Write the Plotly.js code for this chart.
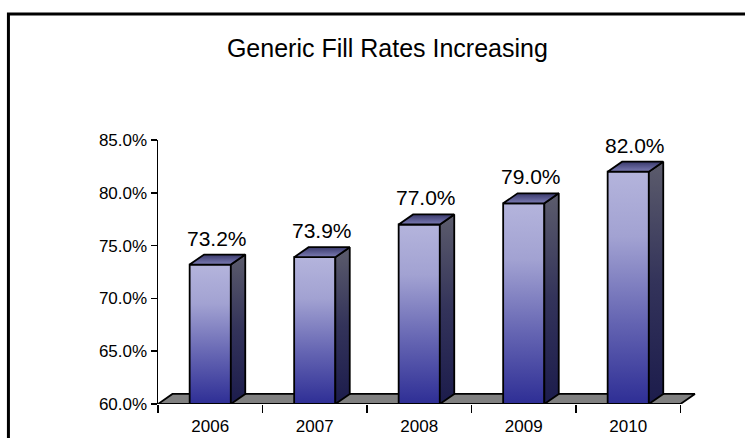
<!DOCTYPE html>
<html>
<head>
<meta charset="utf-8">
<script src="https://cdn.plot.ly/plotly-3.0.1.min.js"></script>
<style>
  html, body { margin: 0; padding: 0; background: #ffffff; }
  #chart { width: 745px; height: 438px; }
</style>
</head>
<body>
<div id="chart"></div>
<script>
// Generic fill rate by year
const years = ['2006', '2007', '2008', '2009', '2010'];
const fillRates = [73.2, 73.9, 77.0, 79.0, 82.0];
const yTickVals = [60, 65, 70, 75, 80, 85];

// 3D column geometry, in axis units
const BASE = 60;          // floor level of the value axis
const HALF_W = 0.197;     // half width of a column's front face
const DEPTH_X = 0.138;    // horizontal depth offset
const DEPTH_Y = 0.95;     // vertical depth offset
const FONT = '"Liberation Sans", Arial, sans-serif';
const EDGE = { color: '#000000', width: 1.8 };

const frontScale = [[0, '#2E2E95'], [0.35, '#6464B2'], [0.72, '#A2A2D2'], [1, '#B4B4DC']];
const sideScale = [[0, '#1C1C4C'], [0.5, '#33335A'], [1, '#5C5C6C']];
const topScale = [[0, '#7C7CB4'], [1, '#3A3A6C']];

function face(xs, ys, scale) {
  return {
    type: 'scatter', mode: 'lines', x: xs, y: ys,
    fill: 'toself', fillgradient: { type: 'vertical', colorscale: scale },
    line: EDGE, hoverinfo: 'skip', showlegend: false
  };
}

const traces = [];

// floor of the chart; its front edge doubles as the category axis line
const xLo = -0.5, xHi = years.length - 0.5;
traces.push({
  type: 'scatter', mode: 'lines',
  x: [xLo, xHi, xHi + DEPTH_X, xLo + DEPTH_X, xLo],
  y: [BASE, BASE, BASE + DEPTH_Y, BASE + DEPTH_Y, BASE],
  fill: 'toself', fillcolor: '#808080', line: EDGE,
  hoverinfo: 'skip', showlegend: false
});

fillRates.forEach((v, i) => {
  const l = i - HALF_W, r = i + HALF_W;
  traces.push(face([l, r, r, l, l], [BASE, BASE, v, v, BASE], frontScale));
  traces.push(face([r, r + DEPTH_X, r + DEPTH_X, r, r],
                   [BASE, BASE + DEPTH_Y, v + DEPTH_Y, v, BASE], sideScale));
  traces.push(face([l, r, r + DEPTH_X, l + DEPTH_X, l],
                   [v, v, v + DEPTH_Y, v + DEPTH_Y, v], topScale));
});

const valueLabels = fillRates.map((v, i) => ({
  x: i + DEPTH_X / 2, y: v, xref: 'x', yref: 'y',
  text: v.toFixed(1) + '%', showarrow: false,
  yanchor: 'bottom', yshift: 13,
  font: { family: FONT, size: 21, color: '#000000' }
}));

const layout = {
  width: 745, height: 438,
  margin: { l: 158, r: 48, t: 140, b: 34 },
  paper_bgcolor: '#ffffff', plot_bgcolor: 'rgba(0,0,0,0)',
  title: {
    text: 'Generic Fill Rates Increasing',
    font: { family: FONT, size: 25, color: '#000000' },
    x: 0.52, xanchor: 'center', xref: 'container',
    y: 0.89, yanchor: 'middle', yref: 'container'
  },
  xaxis: {
    type: 'linear', range: [xLo, xHi + DEPTH_X + 0.02],
    tickvals: years.map((_, i) => i), ticktext: years,
    ticks: '', showline: false, showgrid: false, zeroline: false,
    ticklabelstandoff: 10,
    minor: { tick0: -0.5, dtick: 1, ticks: 'outside', ticklen: 8,
             tickwidth: 1.5, tickcolor: '#000000', showgrid: false },
    tickfont: { family: FONT, size: 17, color: '#000000' }
  },
  yaxis: {
    range: [BASE, 85], tickvals: yTickVals,
    ticktext: yTickVals.map(t => t.toFixed(1) + '%'),
    ticks: 'outside', ticklen: 6, tickwidth: 1.5, tickcolor: '#000000',
    showline: true, linewidth: 1.5, linecolor: '#000000',
    showgrid: false, zeroline: false,
    tickfont: { family: FONT, size: 17, color: '#000000' }
  },
  annotations: valueLabels,
  shapes: [{
    type: 'path', xref: 'paper', yref: 'paper',
    path: 'M -0.2775,-0.2 L -0.2775,1.4773 L 1.2,1.4773',
    line: { color: '#000000', width: 3 }
  }]
};

Plotly.newPlot('chart', traces, layout, { staticPlot: true, displayModeBar: false });
</script>
</body>
</html>
